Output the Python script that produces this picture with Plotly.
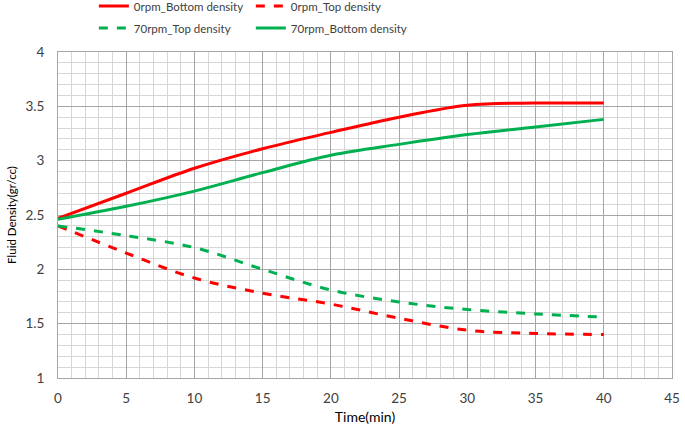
import plotly.graph_objects as go

time_min = [0, 5, 10, 15, 20, 25, 30, 35, 40]
rpm0_bottom = [2.47, 2.70, 2.93, 3.11, 3.26, 3.40, 3.51, 3.53, 3.53]
rpm0_top = [2.40, 2.15, 1.92, 1.78, 1.68, 1.55, 1.44, 1.41, 1.40]
rpm70_top = [2.40, 2.31, 2.20, 2.00, 1.81, 1.70, 1.63, 1.59, 1.56]
rpm70_bottom = [2.46, 2.58, 2.72, 2.89, 3.05, 3.15, 3.24, 3.31, 3.38]

RED = "#FF0000"
GREEN = "#00B050"
FONT = "Lato, Open Sans, sans-serif"

fig = go.Figure()
fig.add_trace(go.Scatter(x=time_min, y=rpm0_bottom, name="0rpm_Bottom density", mode="lines",
                         line=dict(color=RED, width=3, shape="spline"), legend="legend"))
fig.add_trace(go.Scatter(x=time_min, y=rpm0_top, name="0rpm_Top density", mode="lines",
                         line=dict(color=RED, width=3, dash="dash", shape="spline"), legend="legend"))
fig.add_trace(go.Scatter(x=time_min, y=rpm70_top, name="70rpm_Top density", mode="lines",
                         line=dict(color=GREEN, width=3, dash="dash", shape="spline"), legend="legend2"))
fig.add_trace(go.Scatter(x=time_min, y=rpm70_bottom, name="70rpm_Bottom density", mode="lines",
                         line=dict(color=GREEN, width=3, shape="spline"), legend="legend2"))

axis_common = dict(
    showgrid=True, gridcolor="#A6A6A6", gridwidth=1,
    showline=True, linecolor="#A6A6A6", linewidth=1, mirror=True,
    zeroline=False, ticks="", automargin=False,
    tickfont=dict(size=13.5, color="#404040", family=FONT),
)

fig.update_xaxes(range=[0, 45], dtick=5, tick0=0, ticklabelstandoff=8,
                 minor=dict(dtick=1, showgrid=True, gridcolor="#D6D6D6", gridwidth=1),
                 title=dict(text="Time(min)", font=dict(size=14, color="#000000", family=FONT), standoff=6),
                 **axis_common)
fig.update_yaxes(range=[1, 4], dtick=0.5, tick0=1, ticklabelstandoff=10,
                 minor=dict(dtick=0.1, showgrid=True, gridcolor="#D6D6D6", gridwidth=1),
                 title=dict(text="Fluid Density(gr/cc)", font=dict(size=11.5, color="#000000", family=FONT), standoff=6),
                 **axis_common)

legend_common = dict(orientation="h", xref="container", yref="container", xanchor="left", yanchor="middle",
                     bgcolor="rgba(0,0,0,0)", font=dict(size=11.5, color="#404040", family=FONT),
                     itemwidth=30, tracegroupgap=0, entrywidth=112)

fig.update_layout(
    width=685, height=425,
    margin=dict(l=58, r=13, t=52, b=47, autoexpand=False),
    paper_bgcolor="white", plot_bgcolor="white",
    font=dict(family=FONT),
    legend=dict(x=0.137, y=1 - 6 / 425, **legend_common),
    legend2=dict(x=0.137, y=1 - 28 / 425, **legend_common),
)

fig.write_html("out.html", config={"displayModeBar": False},
               post_script="document.body.style.margin='0';")
